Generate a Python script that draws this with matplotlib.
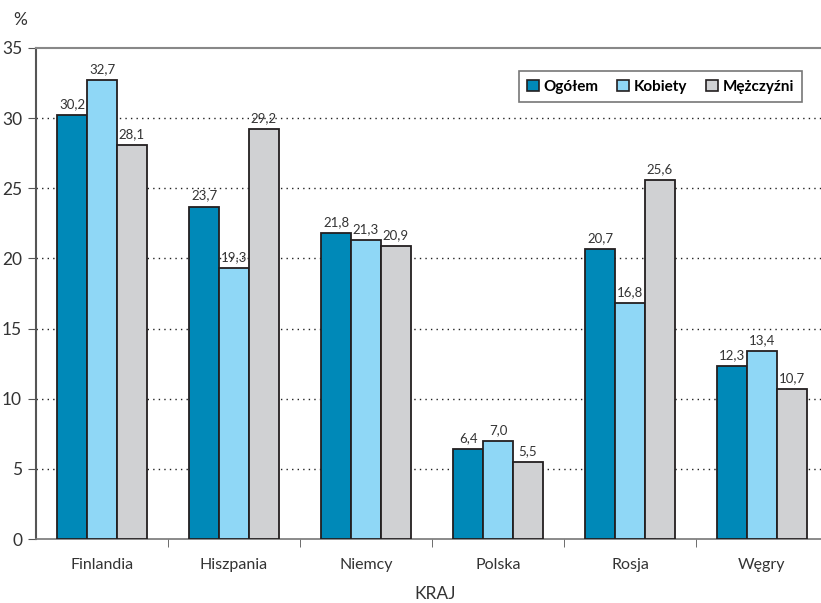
import numpy as np
import matplotlib.pyplot as plt
from matplotlib.patches import Patch

plt.rcParams['font.family'] = ['Lato', 'DejaVu Sans']

kraje = ["Finlandia", "Hiszpania", "Niemcy", "Polska", "Rosja", "Węgry"]
ogolem = [30.2, 23.7, 21.8, 6.4, 20.7, 12.3]
kobiety = [32.7, 19.3, 21.3, 7.0, 16.8, 13.4]
mezczyzni = [28.1, 29.2, 20.9, 5.5, 25.6, 10.7]
serie = ["Ogółem", "Kobiety", "Mężczyźni"]
kolory = ["#0089b8", "#8fd7f6", "#d0d1d3"]

fig = plt.figure(figsize=(8.21, 6.03), dpi=100)
ax = fig.add_axes([36/821, 64/603, 792/821, 491/603])

x = np.arange(len(kraje))
w = 0.225
for i, (vals, kol) in enumerate(zip([ogolem, kobiety, mezczyzni], kolory)):
    pos = x + (i - 1) * w
    ax.bar(pos, vals, w, color=kol, edgecolor="#231f20", linewidth=1.3, zorder=3)
    for px, v in zip(pos, vals):
        ax.text(px, v + 0.35, f"{v:.1f}".replace(".", ","), ha="center", va="bottom",
                fontsize=9.5, color="#333333", zorder=4)

ax.set_xlim(-0.5, len(kraje) - 0.5)
ax.set_ylim(0, 35)
ax.set_yticks(range(0, 36, 5))
ax.set_xticks(x)
ax.set_xticklabels(kraje)
ax.set_xticks(np.arange(0.5, len(kraje) - 0.5), minor=True)
ax.tick_params(axis="x", which="major", length=0, pad=14, labelsize=11.5, labelcolor="#333333")
ax.tick_params(axis="x", which="minor", length=6, direction="out", color="#555555")
ax.tick_params(axis="y", length=6, direction="out", color="#555555", labelsize=12.5,
               labelcolor="#333333", pad=4)

for y in range(5, 35, 5):
    ax.axhline(y, color="#222222", linestyle=(0, (1, 3)), linewidth=1, zorder=1)

ax.spines["left"].set_color("#555555")
ax.spines["left"].set_linewidth(1.5)
ax.spines["bottom"].set_color("#777777")
ax.spines["bottom"].set_linewidth(1.2)
ax.spines["top"].set_color("#888888")
ax.spines["top"].set_linewidth(1.5)
ax.spines["right"].set_visible(False)

uchwyty = [Patch(facecolor=k, edgecolor="#231f20", linewidth=1.2) for k in kolory]
leg = ax.legend(uchwyty, serie, loc="upper right", bbox_to_anchor=(0.977, 0.968),
                ncol=3, frameon=True, fancybox=False, handlelength=0.8, handleheight=0.8,
                handletextpad=0.3, columnspacing=1.2, borderpad=0.55,
                prop={"weight": "bold", "size": 11})
leg.get_frame().set_edgecolor("#555555")
leg.get_frame().set_linewidth(1.2)

fig.text(20/821, 1 - 20/603, "%", fontsize=12.5, color="#333333", ha="center", va="center")
fig.text(435/821, 1 - 594/603, "KRAJ", fontsize=12.5, color="#333333", ha="center", va="center")

fig.savefig("out.png", dpi=100)
